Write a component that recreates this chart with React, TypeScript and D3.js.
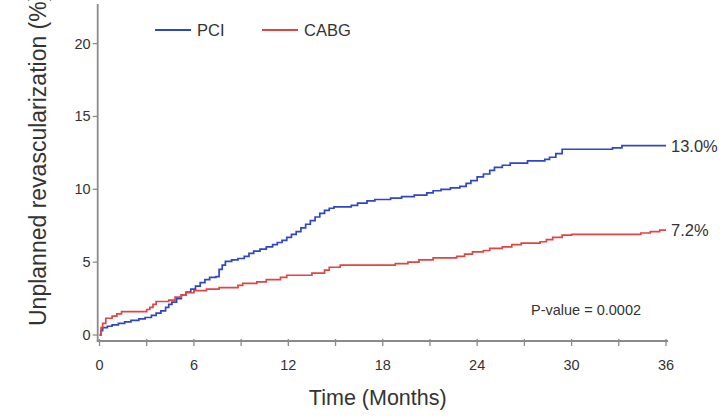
import React from "react";
import * as d3 from "d3";

const pci: [number, number][] = [
  [0, 0], [0.1, 0.3], [0.2, 0.5], [0.5, 0.6], [0.8, 0.7], [1.2, 0.8], [1.6, 0.9], [2.0, 1.0],
  [2.5, 1.1], [2.9, 1.2], [3.3, 1.35], [3.6, 1.5], [3.9, 1.65], [4.2, 1.9], [4.4, 2.1], [4.6, 2.25],
  [4.9, 2.5], [5.2, 2.75], [5.5, 2.95], [5.8, 3.15], [6.1, 3.35], [6.4, 3.6], [6.7, 3.8], [7.0, 3.95],
  [7.4, 4.0], [7.6, 4.5], [7.8, 4.8], [8.0, 5.05], [8.4, 5.15], [8.8, 5.25], [9.2, 5.4], [9.5, 5.6],
  [9.8, 5.75], [10.2, 5.9], [10.6, 6.05], [11.0, 6.2], [11.3, 6.35], [11.6, 6.5], [11.9, 6.7],
  [12.2, 6.9], [12.5, 7.1], [12.8, 7.35], [13.1, 7.6], [13.4, 7.85], [13.7, 8.1], [14.0, 8.35],
  [14.3, 8.55], [14.6, 8.7], [14.9, 8.8], [16.0, 8.9], [16.4, 9.05], [17.0, 9.2], [17.5, 9.3],
  [18.5, 9.4], [19.2, 9.5], [20.0, 9.6], [20.8, 9.75], [21.2, 9.9], [21.7, 10.0], [22.3, 10.1],
  [22.9, 10.2], [23.3, 10.4], [23.6, 10.6], [24.0, 10.85], [24.4, 11.05], [24.8, 11.3], [25.1, 11.5],
  [25.6, 11.65], [26.1, 11.8], [27.2, 11.95], [28.3, 12.05], [28.6, 12.2], [29.0, 12.45],
  [29.4, 12.75], [32.6, 12.85], [33.2, 13.0], [36, 13.0],
];

const cabg: [number, number][] = [
  [0, 0], [0.1, 0.5], [0.2, 0.8], [0.4, 1.15], [0.8, 1.3], [1.1, 1.45], [1.4, 1.6], [3.0, 1.75],
  [3.2, 1.9], [3.4, 2.1], [3.6, 2.3], [4.4, 2.4], [4.8, 2.6], [5.2, 2.75], [5.5, 2.9], [6.0, 3.05],
  [6.8, 3.15], [7.6, 3.25], [8.8, 3.4], [9.1, 3.55], [10.0, 3.65], [10.6, 3.8], [11.5, 3.95],
  [11.9, 4.1], [13.5, 4.25], [14.3, 4.45], [14.6, 4.65], [15.3, 4.8], [18.8, 4.9], [19.6, 5.0],
  [20.3, 5.15], [21.2, 5.3], [22.7, 5.4], [23.2, 5.55], [23.7, 5.7], [24.4, 5.8], [24.8, 5.95],
  [25.6, 6.05], [26.2, 6.2], [26.8, 6.3], [28.0, 6.4], [28.4, 6.55], [28.8, 6.7], [29.4, 6.85],
  [30.0, 6.9], [34.4, 7.0], [35.0, 7.1], [35.6, 7.2], [36, 7.2],
];

const xTickLabels = [0, 6, 12, 18, 24, 30, 36];
const xMinorTicks = d3.range(0, 37, 3);
const yTickLabels = [0, 5, 10, 15, 20];
const seriesNames = ["PCI", "CABG"];
const endLabels = ["13.0%", "7.2%"];
const pValueText = "P-value = 0.0002";

const BLUE = "#3146c2";
const RED = "#e04444";
const AXIS = "#8a8a8a";
const TEXT = "#333";
const FONT = "'Liberation Sans', Arial, sans-serif";

export default function App() {
  const x = d3.scaleLinear().domain([0, 36]).range([99.5, 666]);
  const y = d3.scaleLinear().domain([0, 20]).range([335, 43.6]);
  const line = d3
    .line<[number, number]>()
    .x((d) => x(d[0]))
    .y((d) => y(d[1]))
    .curve(d3.curveStepAfter);

  const axisX = 97.7;
  const axisY = 341;
  const series = [
    { name: seriesNames[0], data: pci, color: BLUE, label: endLabels[0] },
    { name: seriesNames[1], data: cabg, color: RED, label: endLabels[1] },
  ];

  return (
    <svg
      width={725}
      height={417}
      style={{ position: "absolute", left: 0, top: 0, background: "#fff" }}
      fontFamily={FONT}
    >
      <rect width={725} height={417} fill="#fff" />
      {/* axes */}
      <line x1={axisX} x2={axisX} y1={4} y2={axisY} stroke={AXIS} strokeWidth={1.8} />
      <line x1={axisX - 1} x2={668} y1={axisY} y2={axisY} stroke={AXIS} strokeWidth={1.8} />
      {yTickLabels.map((v) => (
        <g key={"y" + v}>
          <line x1={axisX - 5} x2={axisX} y1={y(v)} y2={y(v)} stroke={AXIS} strokeWidth={1.3} />
          <text x={axisX - 7} y={y(v) + 5} textAnchor="end" fontSize={14.5} fill={TEXT}>
            {v}
          </text>
        </g>
      ))}
      {xMinorTicks.map((v) => (
        <line key={"xt" + v} x1={x(v)} x2={x(v)} y1={axisY - 2} y2={axisY + 5} stroke={AXIS} strokeWidth={1.3} />
      ))}
      {xTickLabels.map((v) => (
        <text key={"xl" + v} x={x(v)} y={370} textAnchor="middle" fontSize={14.5} fill={TEXT}>
          {v}
        </text>
      ))}
      <text x={(x(0) + x(36)) / 2 - 5} y={405} textAnchor="middle" fontSize={21.5} fill={TEXT}>
        Time (Months)
      </text>
      <text
        transform={`translate(46,326) rotate(-90)`}
        textAnchor="start"
        fontSize={23}
        fill={TEXT}
      >
        Unplanned revascularization (%)
      </text>

      {/* curves */}
      {series.map((s) => (
        <path key={s.name} d={line(s.data) || ""} fill="none" stroke={s.color} strokeWidth={1.7} />
      ))}
      {series.map((s) => (
        <text
          key={"e" + s.name}
          x={x(36) + 5}
          y={y(s.data[s.data.length - 1][1]) + 6}
          fontSize={16.5}
          fill={TEXT}
        >
          {s.label}
        </text>
      ))}

      {/* legend */}
      {series.map((s, i) => {
        const lx = i === 0 ? 155 : 262;
        return (
          <g key={"lg" + s.name}>
            <line x1={lx} x2={lx + 36} y1={30} y2={30} stroke={s.color} strokeWidth={1.8} />
            <text x={lx + 42} y={36} fontSize={16.5} fill={TEXT}>
              {s.name}
            </text>
          </g>
        );
      })}

      <text x={531} y={315} fontSize={14.5} fill={TEXT}>
        {pValueText}
      </text>
    </svg>
  );
}
